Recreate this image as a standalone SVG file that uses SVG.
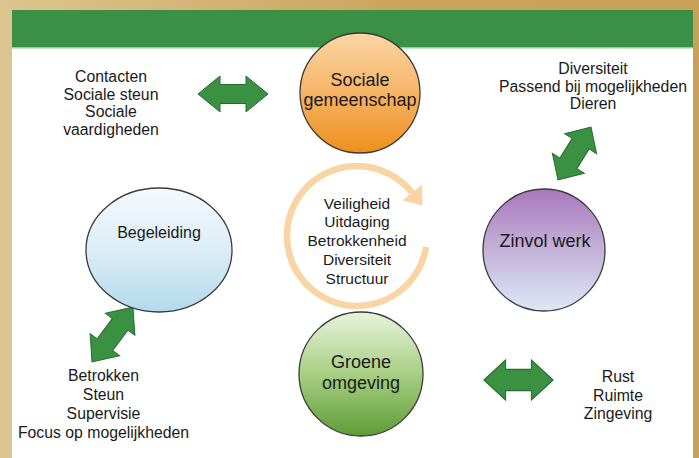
<svg xmlns="http://www.w3.org/2000/svg" xmlns:xlink="http://www.w3.org/1999/xlink" width="699" height="458" viewBox="0 0 699 458">
<style>
.t{font-family:"Liberation Sans",Arial,sans-serif;fill:#1a1a1a;text-anchor:middle}
.lbl{font-size:18px}
.sm{font-size:15.8px}
.node{stroke:#3a3a3a;stroke-width:1.3}
.arr{fill:#3a9142;stroke:#276b2e;stroke-width:1}
</style>
<defs>
<linearGradient id="frame" x1="0" y1="0" x2="1" y2="0">
<stop offset="0" stop-color="#dcc590"/>
<stop offset="0.6" stop-color="#c9a35a"/>
<stop offset="1" stop-color="#c8a157"/>
</linearGradient>
<linearGradient id="gOrange" x1="0" y1="0" x2="0" y2="1">
<stop offset="0" stop-color="#fbd6a6"/>
<stop offset="0.5" stop-color="#f6b466"/>
<stop offset="1" stop-color="#ee8f1c"/>
</linearGradient>
<linearGradient id="gPurple" x1="0" y1="0" x2="0" y2="1">
<stop offset="0" stop-color="#a977bd"/>
<stop offset="0.5" stop-color="#c3b2d8"/>
<stop offset="1" stop-color="#dde8f6"/>
</linearGradient>
<linearGradient id="gBlue" x1="0" y1="0" x2="0" y2="1">
<stop offset="0" stop-color="#f6fafd"/>
<stop offset="0.5" stop-color="#dcedf7"/>
<stop offset="1" stop-color="#b3d9ed"/>
</linearGradient>
<linearGradient id="gGreen" x1="0" y1="0" x2="0" y2="1">
<stop offset="0" stop-color="#e8f3dc"/>
<stop offset="0.5" stop-color="#a8cf84"/>
<stop offset="1" stop-color="#5e9c36"/>
</linearGradient>
<path id="dbl" d="M-35,0 L-13,-18 L-13,-9.5 L13,-9.5 L13,-18 L35,0 L13,18 L13,9.5 L-13,9.5 L-13,18 Z"/>
</defs>

<rect x="0" y="0" width="699" height="458" fill="url(#frame)"/>
<rect x="12" y="10" width="681" height="448" fill="#ffffff"/>
<rect x="12" y="10" width="681" height="37" fill="#3a9145"/>
<line x1="12" y1="47.8" x2="693" y2="47.8" stroke="#9ccb92" stroke-width="1.6"/>

<g id="connectors">
<use xlink:href="#dbl" class="arr" transform="translate(233,94)"/>
<use xlink:href="#dbl" class="arr" transform="translate(518.5,380) scale(0.99,1.12)"/>
<use xlink:href="#dbl" class="arr" transform="translate(574.5,153.5) rotate(-58) scale(0.89,1.05)"/>
<use xlink:href="#dbl" class="arr" transform="translate(112.5,334.5) rotate(-53.3) scale(0.98,1.02)"/>
</g>

<g id="cycle">
<path d="M426.1,246.9 A70,70 0 1 1 412.2,192.9" fill="none" stroke="#f9d4a4" stroke-width="6.5"/>
<polygon points="422,184.5 402.5,200.5 422.5,205.5" fill="#f9d4a4"/>
<text class="t" style="font-size:15.5px" x="357" y="208.5">Veiligheid</text>
<text class="t" style="font-size:15.5px" x="357" y="227.3">Uitdaging</text>
<text class="t" style="font-size:15.5px" x="357" y="246">Betrokkenheid</text>
<text class="t" style="font-size:15.5px" x="357" y="264.8">Diversiteit</text>
<text class="t" style="font-size:15.5px" x="357" y="283.5">Structuur</text>
</g>

<g id="sociale">
<circle class="node" cx="360" cy="93" r="60" fill="url(#gOrange)"/>
<text class="t lbl" x="360" y="86">Sociale</text>
<text class="t lbl" x="360" y="106">gemeenschap</text>
</g>

<g id="zinvol">
<circle class="node" cx="544" cy="250" r="61" fill="url(#gPurple)"/>
<text class="t lbl" x="545" y="246.5">Zinvol werk</text>
</g>

<g id="begeleiding">
<ellipse class="node" cx="159" cy="250" rx="73" ry="62" fill="url(#gBlue)"/>
<text class="t" style="font-size:16px" x="159" y="238">Begeleiding</text>
</g>

<g id="groene">
<circle class="node" cx="361" cy="374" r="62" fill="url(#gGreen)"/>
<text class="t lbl" x="361" y="368">Groene</text>
<text class="t lbl" x="361" y="389">omgeving</text>
</g>

<g id="txt-sociale">
<text class="t sm" x="111" y="82">Contacten</text>
<text class="t sm" x="111" y="99.5">Sociale steun</text>
<text class="t sm" x="111" y="117">Sociale</text>
<text class="t sm" x="111" y="134.5">vaardigheden</text>
</g>

<g id="txt-zinvol">
<text class="t sm" x="593" y="74">Diversiteit</text>
<text class="t sm" x="593" y="91.5">Passend bij mogelijkheden</text>
<text class="t sm" x="593" y="109">Dieren</text>
</g>

<g id="txt-begeleiding">
<text class="t sm" x="103.5" y="381">Betrokken</text>
<text class="t sm" x="103.5" y="400">Steun</text>
<text class="t sm" x="103.5" y="419">Supervisie</text>
<text class="t sm" x="103.5" y="438">Focus op mogelijkheden</text>
</g>

<g id="txt-groene">
<text class="t sm" x="618" y="382">Rust</text>
<text class="t sm" x="618" y="400.5">Ruimte</text>
<text class="t sm" x="618" y="419">Zingeving</text>
</g>
</svg>
